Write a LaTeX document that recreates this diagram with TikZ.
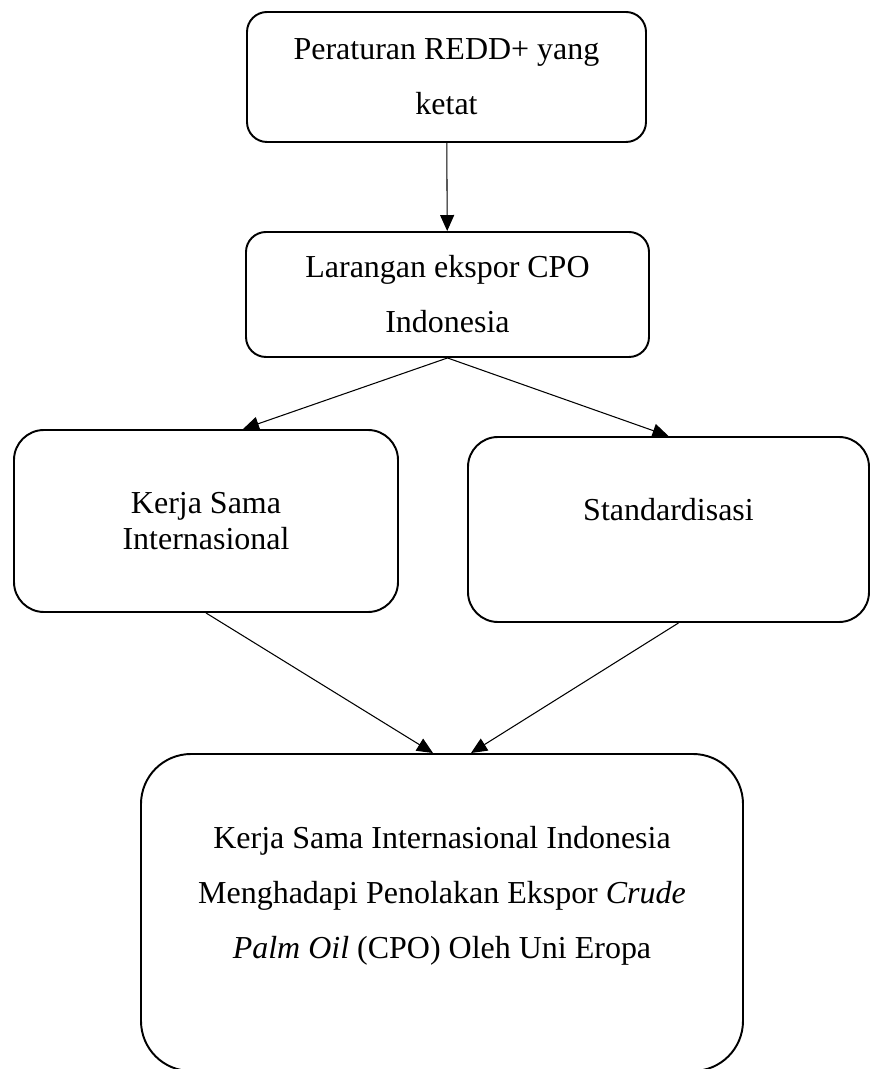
\documentclass[tikz,border=0pt]{standalone}
\usepackage{fontspec}
\setmainfont{Liberation Serif}
\usepackage{tikz}
\usetikzlibrary{positioning,arrows.meta}

\begin{document}
\begin{tikzpicture}[
  kotak/.style={draw,line width=1.1pt,rounded corners=0.4cm,align=center,font=\fontsize{18.2}{31.3}\selectfont},
  panah/.style={-{Triangle[length=3.2mm,width=2.8mm]},line width=0.6pt}
]
\useasboundingbox (0,0) rectangle (17.42,21.38);
% kotak atas
\node[kotak,minimum width=7.98cm,minimum height=2.6cm] (redd) at (8.93,19.84) {Peraturan REDD+ yang\\ketat};
\node[kotak,minimum width=8.06cm,minimum height=2.5cm] (larangan) at (8.95,15.49) {Larangan ekspor CPO\\Indonesia};
% kotak tengah
\node[kotak,rounded corners=0.6cm,minimum width=7.68cm,minimum height=3.64cm,font=\fontsize{18.2}{20.5}\selectfont] (kerjasama) at (4.12,10.96) {Kerja Sama\\Internasional};
\node[kotak,rounded corners=0.6cm,minimum width=8.02cm,minimum height=3.7cm,text depth=0.8cm] (standar) at (13.37,10.79) {Standardisasi};
% kotak bawah
\node[kotak,rounded corners=1cm,minimum width=12.04cm,minimum height=6.34cm,text depth=0.8cm] (hasil) at (8.84,3.13) {Kerja Sama Internasional Indonesia\\Menghadapi Penolakan Ekspor \textit{Crude}\\\textit{Palm Oil} (CPO) Oleh Uni Eropa};
% panah
\draw[panah] (redd) -- (larangan);
\draw[panah] (larangan.south) -- ([xshift=0.74cm]kerjasama.north);
\draw[panah] (larangan.south) -- (standar.north);
\draw[panah] (kerjasama.south) -- ([xshift=-0.18cm]hasil.north);
\draw[panah] ([xshift=0.2cm]standar.south) -- ([xshift=0.58cm]hasil.north);
\end{tikzpicture}
\end{document}
